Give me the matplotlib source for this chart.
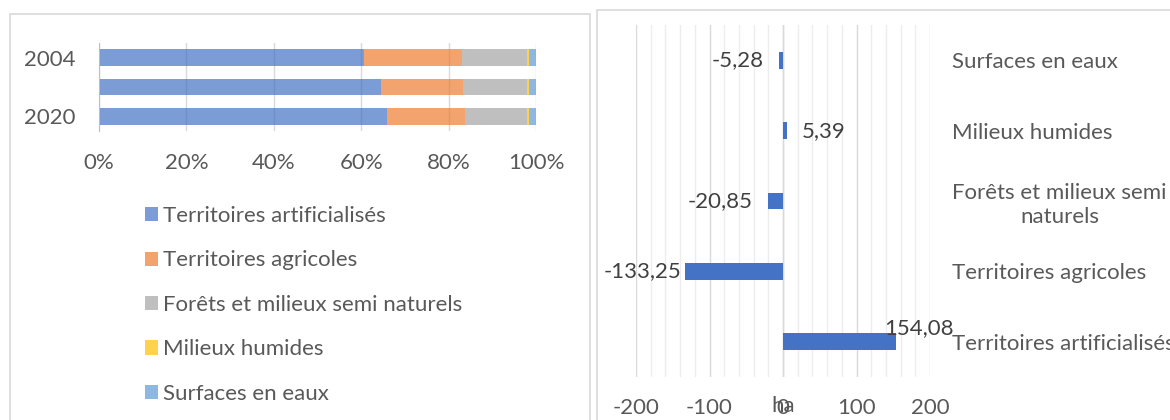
import numpy as np
import matplotlib.pyplot as plt
from matplotlib.patches import Rectangle

plt.rcParams['font.family'] = ['Lato', 'DejaVu Sans']
plt.rcParams['axes.unicode_minus'] = False

# land use shares (%) per year, from top bar to bottom bar
classes = ["Territoires artificialisés", "Territoires agricoles",
           "Forêts et milieux semi naturels", "Milieux humides", "Surfaces en eaux"]
year_labels = ["2004", "", "2020"]
artif = [60.6, 64.5, 65.8]
agri = [22.5, 18.7, 18.0]
forest = [14.9, 14.8, 14.2]
wet = [0.3, 0.4, 0.5]
water = [1.7, 1.6, 1.5]

# change 2004-2020 in hectares
change_labels = ["Territoires artificialisés", "Territoires agricoles",
                 "Forêts et milieux semi\nnaturels", "Milieux humides", "Surfaces en eaux"]
change_ha = [154.08, -133.25, -20.85, 5.39, -5.28]

colors = ["#4472C4", "#ED7D31", "#A5A5A5", "#FFC000", "#5B9BD5"]
txt = "#595959"
fs = 16
W, H = 1170, 420

fig = plt.figure(figsize=(W / 100, H / 100), dpi=100)

def fx(px):
    return px / W

def fy(py):
    return 1 - py / H

# panel frames
fig.patches.append(Rectangle((fx(10), fy(430)), fx(580), (430 - 14) / H, transform=fig.transFigure,
                             fill=False, ec="#D9D9D9", lw=1.2))
fig.patches.append(Rectangle((fx(597), fy(430)), fx(590), (430 - 10) / H, transform=fig.transFigure,
                             fill=False, ec="#D9D9D9", lw=1.2))

# left: stacked 100% bars
ax1 = fig.add_axes([fx(99), fy(131), fx(437), (131 - 43) / H])
y = np.arange(len(year_labels))
left = np.zeros(len(year_labels))
for name, vals, c in zip(classes, [artif, agri, forest, wet, water], colors):
    ax1.barh(y, vals, left=left, height=0.57, color=c, alpha=0.7, label=name, zorder=2)
    left += np.array(vals)
ax1.set_xlim(0, 100)
ax1.set_ylim(2.5, -0.5)
ax1.set_xticks(np.arange(0, 101, 20))
ax1.set_xticklabels([f"{v}%" for v in range(0, 101, 20)])
ax1.set_yticks(y)
ax1.set_yticklabels(year_labels)
ax1.grid(axis="x", color="#D9D9D9", lw=1, zorder=0)
for s in ["top", "right", "bottom"]:
    ax1.spines[s].set_visible(False)
ax1.spines["left"].set_color("#BFBFBF")
ax1.tick_params(length=0, labelsize=fs, labelcolor=txt)
ax1.tick_params(axis="x", pad=16)
ax1.tick_params(axis="y", pad=17)

handles, labs = ax1.get_legend_handles_labels()
fig.legend(handles, labs, loc="upper left", bbox_to_anchor=(fx(125), fy(186)),
           frameon=False, fontsize=fs, labelcolor=txt, handlelength=0.6,
           handleheight=0.6, handletextpad=0.2, labelspacing=1.1)

# right: change in hectares
ax2 = fig.add_axes([fx(636), fy(377), fx(294), (377 - 25) / H])
yc = np.arange(len(change_ha))
ax2.barh(yc, change_ha, height=0.24, color="#4472C4", zorder=2)
ax2.set_xlim(-200, 200)
ax2.set_ylim(-0.5, 4.5)
ax2.set_xticks(np.arange(-200, 201, 100))
ax2.set_xticks(np.arange(-200, 201, 20), minor=True)
ax2.grid(axis="x", which="minor", color="#EDEDED", lw=1, zorder=0)
ax2.grid(axis="x", which="major", color="#D9D9D9", lw=1, zorder=1)
for s in ax2.spines.values():
    s.set_visible(False)
ax2.axvline(0, color="#D9D9D9", lw=1, zorder=1)
ax2.set_yticks(yc)
ax2.set_yticklabels(change_labels, multialignment="center", linespacing=1.25)
ax2.yaxis.tick_right()
ax2.tick_params(which="both", length=0, labelsize=fs, labelcolor=txt)
ax2.tick_params(axis="x", pad=15)
ax2.tick_params(axis="y", pad=16)
ax2.set_xlabel("ha", fontsize=fs, color=txt)
ax2.xaxis.set_label_coords(0.5, -0.055)

for yi, v in zip(yc, change_ha):
    s = f"{v:.2f}".replace(".", ",")
    if v < -100:
        ax2.annotate(s, (v, yi), xytext=(-3, 0), textcoords="offset points",
                     ha="right", va="center", fontsize=fs, color="#404040")
    elif v < 0:
        ax2.annotate(s, (v, yi), xytext=(-11, 0), textcoords="offset points",
                     ha="right", va="center", fontsize=fs, color="#404040")
    elif v > 100:
        ax2.annotate(s, (v, yi), xytext=(-9, 10), textcoords="offset points",
                     ha="left", va="center", fontsize=fs, color="#404040")
    else:
        ax2.annotate(s, (v, yi), xytext=(11, 0), textcoords="offset points",
                     ha="left", va="center", fontsize=fs, color="#404040")

fig.savefig("out.png", dpi=100)
